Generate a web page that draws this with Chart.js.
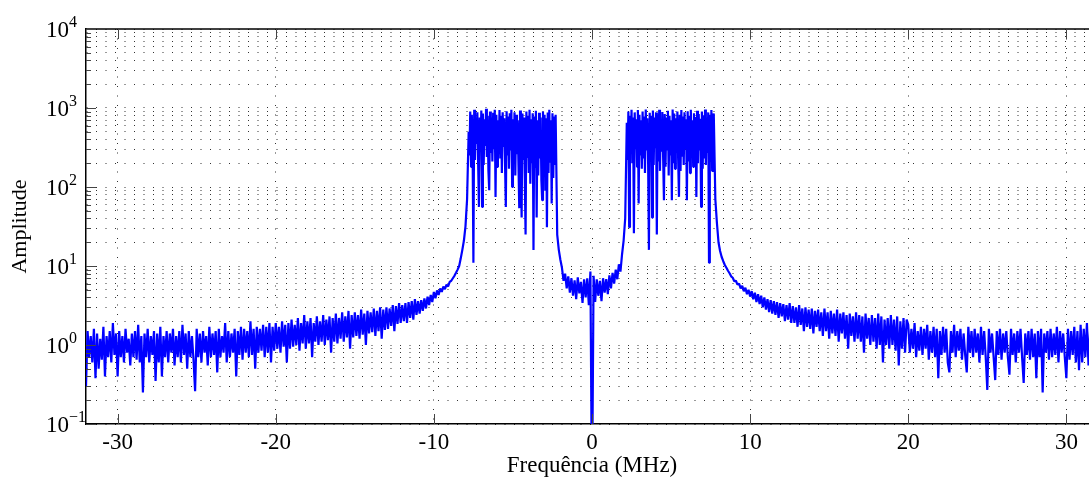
<!DOCTYPE html>
<html>
<head>
<meta charset="utf-8">
<script src="https://cdn.jsdelivr.net/npm/chart.js@4.4.1/dist/chart.umd.min.js"></script>
<style>
  html, body { margin: 0; padding: 0; background: #fff; overflow: hidden; }
  #wrap { width: 1089px; height: 480px; overflow: hidden; }
  #spectrum { display: block; }
</style>
</head>
<body>
<!-- the axes box runs a little past the right edge of the picture, so the canvas is wider and cropped -->
<div id="wrap"><canvas id="spectrum" width="1098" height="480"></canvas></div>
<script>
// sample spacing (MHz): coarse on the floor/skirts, fine inside the two bands
const stepCoarse = 0.1;
const stepFine = 0.05;

// amplitude, left to right
// noise floor, -32.0 .. -20.1 (0.1 MHz)
const noiseLeft = [
  0.3, 1.5, 0.7, 1.3, 0.6, 1.6, 0.38, 1.4, 0.5, 1.2,
  0.65, 1.7, 0.4, 1.3, 0.7, 1.5, 0.6, 1.9, 0.75, 1.4,
  0.4, 1.5, 0.7, 1.3, 0.6, 1.6, 0.8, 1.2, 0.55, 1.4,
  0.7, 1.5, 0.65, 1.8, 0.6, 1.3, 0.25, 1.4, 0.7, 1.6,
  0.6, 1.3, 0.75, 1.5, 0.35, 1.4, 0.6, 1.7, 0.4, 1.3,
  0.7, 1.5, 0.6, 1.4, 0.8, 1.6, 0.55, 1.3, 0.7, 1.5,
  0.6, 1.8, 0.75, 1.4, 0.5, 1.5, 0.7, 1.3, 0.65, 0.26,
  1.6, 0.7, 1.4, 0.6, 1.5, 0.8, 1.3, 0.55, 1.7, 0.7,
  1.4, 0.75, 1.5, 0.45, 1.6, 0.7, 1.3, 0.8, 1.9, 0.6,
  1.5, 0.7, 1.4, 0.8, 1.6, 0.4, 1.5, 0.75, 1.7, 0.65,
  1.6, 0.8, 1.5, 0.7, 2.0, 0.75, 1.6, 0.5, 1.7, 0.8,
  1.6, 0.85, 1.8, 0.7, 1.7, 0.8, 1.9, 0.6, 1.7, 0.85
];
// rising skirt, -20.0 .. -7.9 (0.1 MHz)
const skirtLeft = [
  1.9, 0.9, 1.7, 0.8, 2.0, 0.95, 1.8, 0.6, 1.9, 0.9,
  2.1, 0.95, 1.8, 1.0, 2.2, 0.85, 1.9, 1.05, 2.4, 0.9,
  2.0, 1.05, 2.2, 0.7, 1.9, 1.1, 2.3, 1.0, 2.0, 1.1,
  2.4, 1.0, 2.1, 1.15, 2.3, 0.8, 2.2, 1.1, 2.5, 1.05,
  2.2, 1.2, 2.6, 1.1, 2.3, 1.25, 2.7, 0.9, 2.4, 1.25,
  2.6, 1.3, 2.4, 1.2, 2.8, 1.35, 2.5, 1.0, 2.7, 1.4,
  2.6, 1.45, 2.9, 1.3, 2.7, 1.5, 3.0, 1.2, 2.8, 1.55,
  3.0, 1.6, 2.9, 1.75, 3.2, 1.5, 3.1, 1.85, 3.4, 1.9,
  3.2, 2.0, 3.4, 1.9, 3.5, 2.2, 3.6, 2.1, 3.8, 2.4,
  3.6, 2.5, 3.7, 2.7, 3.9, 2.9, 4.1, 3.2, 4.3, 3.5,
  4.7, 3.9, 4.9, 4.3, 5.2, 4.7, 5.5, 5.1, 5.8, 5.5,
  6.3, 6.5, 7.0, 7.5, 8.2, 9.0, 10, 12.5, 16, 21,
  32, 70
];
// lower band, -7.8 .. -2.3 (0.05 MHz)
const bandLeft = [
  500, 250, 900, 180, 820, 300, 11, 950, 220, 700,
  350, 880, 200, 56, 760, 280, 930, 56, 850, 190,
  720, 330, 980, 240, 800, 160, 91, 900, 270, 760,
  210, 870, 300, 950, 75, 820, 180, 700, 260, 940,
  230, 800, 150, 880, 320, 740, 200, 56, 910, 250,
  780, 170, 860, 290, 950, 100, 720, 210, 880, 140,
  820, 260, 700, 190, 54, 930, 160, 41, 850, 220,
  760, 130, 25, 900, 240, 800, 150, 950, 110, 720,
  200, 860, 16, 780, 180, 920, 41, 700, 140, 870,
  230, 760, 120, 68, 900, 170, 820, 90, 740, 31,
  880, 150, 950, 210, 700, 62, 860, 130, 780, 190,
  820
];
// gap around DC, -2.2 .. 2.1 (0.1 MHz)
const centre = [
  25, 16, 12, 9.5, 6.5, 8.0, 5.2, 7.4, 4.6, 7.0,
  4.2, 6.6, 3.8, 7.2, 4.5, 6.3, 3.4, 6.8, 4.0, 7.0,
  3.2, 8.5, 0.01, 7.5, 3.5, 6.8, 4.2, 6.5, 3.6, 7.0,
  4.6, 6.8, 4.4, 7.6, 5.2, 8.2, 6.0, 9.0, 6.8, 10.5,
  8.5, 14, 21, 40
];
// upper band, 2.2 .. 7.7 (0.05 MHz)
const bandRight = [
  650, 220, 900, 31, 800, 280, 950, 200, 760, 26,
  880, 300, 720, 180, 940, 62, 820, 250, 700, 170,
  900, 230, 780, 150, 960, 290, 740, 200, 16, 870,
  260, 800, 41, 930, 190, 760, 310, 880, 25, 820,
  210, 950, 160, 700, 280, 890, 230, 68, 840, 180,
  760, 300, 920, 140, 800, 250, 700, 68, 960, 200,
  850, 170, 740, 270, 900, 220, 75, 820, 160, 940,
  250, 780, 190, 880, 300, 720, 68, 910, 210, 800,
  150, 950, 260, 700, 180, 860, 240, 770, 75, 920,
  200, 840, 290, 730, 56, 900, 170, 810, 230, 960,
  190, 750, 270, 880, 11, 820, 210, 940, 160, 780,
  850
];
// falling skirt, 7.8 .. 19.9 (0.1 MHz)
const skirtRight = [
  70, 35, 20, 15.5, 13, 11.5, 10.3, 9.5, 8.7, 8.1,
  7.4, 7.1, 6.4, 6.5, 5.8, 6.0, 5.2, 5.6, 4.8, 5.3,
  4.4, 5.0, 4.1, 4.8, 3.8, 4.6, 3.5, 4.4, 3.3, 4.2,
  3.0, 4.0, 2.8, 3.8, 2.6, 3.7, 2.5, 3.6, 2.4, 3.5,
  2.2, 3.4, 2.3, 3.3, 2.0, 3.2, 2.1, 3.4, 1.9, 3.1,
  1.9, 3.0, 1.7, 3.2, 1.8, 2.9, 1.5, 3.0, 1.7, 2.8,
  1.6, 2.9, 1.4, 2.7, 1.7, 2.8, 1.5, 2.6, 1.3, 2.9,
  1.5, 2.6, 1.2, 2.7, 1.4, 2.5, 1.3, 2.8, 1.1, 2.5,
  1.4, 2.6, 1.2, 2.4, 0.9, 2.5, 1.3, 2.3, 1.1, 2.6,
  1.2, 2.4, 1.1, 2.3, 0.8, 2.5, 1.2, 2.2, 1.0, 2.4,
  1.1, 2.2, 0.9, 2.5, 1.0, 2.3, 0.6, 2.1, 1.0, 2.2,
  0.9, 2.4, 1.0, 2.1, 0.85, 2.3, 0.55, 2.0, 0.9, 2.2,
  0.8, 2.1
];
// noise floor, 20.0 .. 31.5 (0.1 MHz)
const noiseRight = [
  1.8, 0.8, 1.6, 0.9, 1.9, 0.7, 1.5, 0.85, 1.7, 0.75,
  1.6, 0.9, 1.8, 0.65, 1.5, 0.8, 1.7, 0.7, 1.6, 0.38,
  1.5, 0.75, 1.7, 0.8, 1.6, 0.6, 0.45, 1.5, 0.8, 1.8,
  0.7, 1.5, 0.85, 1.6, 0.65, 1.4, 0.75, 0.45, 1.7, 0.8,
  1.5, 0.7, 1.6, 0.8, 1.4, 0.6, 1.7, 0.75, 1.5, 0.7,
  0.27, 1.6, 0.8, 1.4, 0.7, 0.36, 1.5, 0.75, 1.6, 0.65,
  1.4, 0.8, 1.5, 0.7, 0.42, 1.6, 0.75, 1.4, 0.6, 1.5,
  0.8, 1.6, 0.7, 0.33, 1.4, 0.75, 1.5, 0.65, 1.6, 0.7,
  1.4, 0.38, 1.5, 0.7, 1.6, 0.25, 1.4, 0.8, 1.5, 0.65,
  1.6, 0.7, 1.4, 0.75, 1.7, 0.6, 1.5, 0.8, 1.4, 0.7,
  0.38, 1.6, 0.65, 1.5, 0.75, 1.7, 0.6, 1.5, 0.48, 1.8,
  0.6, 1.6, 0.7, 1.9, 0.55, 1.5
];

// axes
const xTicks = [-30, -20, -10, 0, 10, 20, 30];
const yMajorTicks = [0.1, 1, 10, 100, 1000, 10000];
const yExponents = ["\u22121", "0", "1", "2", "3", "4"];

// frequency of a sample = start of its piece + index * spacing
function piece(values, start, step) {
  return values.map((a, i) => ({ x: start + i * step, y: a }));
}
const points = [].concat(
  piece(noiseLeft, -32, stepCoarse),
  piece(skirtLeft, -20, stepCoarse),
  piece(bandLeft, -7.8, stepFine),
  piece(centre, -2.2, stepCoarse),
  piece(bandRight, 2.2, stepFine),
  piece(skirtRight, 7.8, stepCoarse),
  piece(noiseRight, 20, stepCoarse)
);

const serif = '"Liberation Serif", "DejaVu Serif", serif';
const dotted = [1, 8.5];

// minor log grid 2..9 x 10^k between the major ticks
function logGridValues() {
  const vals = [];
  for (let d = 0; d < yMajorTicks.length - 1; d++) {
    for (let m = 1; m <= 9; m++) vals.push(yMajorTicks[d] * m);
  }
  vals.push(yMajorTicks[yMajorTicks.length - 1]);
  return vals;
}

// inward tick marks, top frame line and 10^n labels (matlab look)
const axisDecor = {
  id: "axisDecor",
  afterDraw(chart) {
    const { ctx, chartArea: a, scales } = chart;
    const x = scales.x, y = scales.y;
    ctx.save();

    ctx.strokeStyle = "#000";
    ctx.lineWidth = 1.5;
    ctx.beginPath();
    ctx.moveTo(a.left, a.top);
    ctx.lineTo(a.right, a.top);
    ctx.stroke();

    ctx.strokeStyle = "#444";
    ctx.lineWidth = 1;
    ctx.beginPath();
    x.ticks.forEach((t) => {
      const px = Math.round(x.getPixelForValue(t.value)) + 0.5;
      ctx.moveTo(px, a.bottom);
      ctx.lineTo(px, a.bottom - 10);
      ctx.moveTo(px, a.top);
      ctx.lineTo(px, a.top + 10);
    });
    y.ticks.forEach((t) => {
      const py = Math.round(y.getPixelForValue(t.value)) + 0.5;
      const len = yMajorTicks.includes(t.value) ? 10 : 5;
      ctx.moveTo(a.left, py);
      ctx.lineTo(a.left + len, py);
    });
    ctx.stroke();

    ctx.fillStyle = "#000";
    yMajorTicks.forEach((v, i) => {
      const py = y.getPixelForValue(v);
      ctx.font = "23px " + serif;
      ctx.textAlign = "right";
      ctx.textBaseline = "alphabetic";
      ctx.fillText("10", 69, py + 7.5);
      ctx.font = "16px " + serif;
      ctx.textAlign = "left";
      ctx.fillText(yExponents[i], 69, py - 2);
    });
    ctx.restore();
  },
};

const ctx = document.getElementById("spectrum").getContext("2d");

new Chart(ctx, {
  type: "line",
  data: {
    datasets: [
      {
        data: points,
        borderColor: "#0000ff",
        borderWidth: 2.2,
        borderJoinStyle: "bevel",
        pointRadius: 0,
        tension: 0,
        fill: false,
      },
    ],
  },
  options: {
    responsive: false,
    animation: false,
    layout: { padding: { top: 29, right: 0, left: 0, bottom: 0 } },
    plugins: {
      legend: { display: false },
      tooltip: { enabled: false },
    },
    scales: {
      x: {
        type: "linear",
        min: -32,
        max: 32,
        afterBuildTicks: (s) => {
          s.ticks = xTicks.map((v) => ({ value: v }));
        },
        afterFit: (s) => {
          s.height = 56;
        },
        ticks: {
          color: "#000",
          font: { family: serif, size: 23 },
          padding: 5,
          maxRotation: 0,
          autoSkip: false,
          callback: (v) => String(v),
        },
        grid: { color: "rgba(0,0,0,0.8)", lineWidth: 1, drawTicks: false },
        border: { display: true, color: "#000", width: 1.5, dash: dotted },
        title: {
          display: true,
          text: "Frequência (MHz)",
          color: "#000",
          font: { family: serif, size: 23 },
          padding: { top: 0, bottom: 0 },
        },
      },
      y: {
        type: "logarithmic",
        min: 0.1,
        max: 10000,
        afterBuildTicks: (s) => {
          s.ticks = logGridValues().map((v) => ({ value: v }));
        },
        afterFit: (s) => {
          s.width = 86;
        },
        ticks: { display: false },
        grid: { color: "rgba(0,0,0,0.8)", lineWidth: 1, drawTicks: false },
        border: { display: true, color: "#000", width: 1.5, dash: dotted },
        title: {
          display: true,
          text: "Amplitude",
          color: "#000",
          font: { family: serif, size: 22 },
          padding: { top: 7, bottom: 0 },
        },
      },
    },
  },
  plugins: [axisDecor],
});
</script>
</body>
</html>
